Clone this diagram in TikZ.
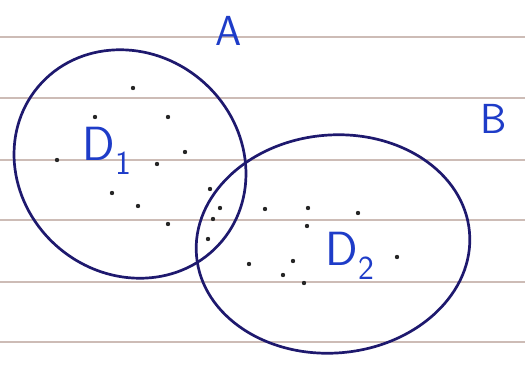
\documentclass[tikz,border=0pt]{standalone}
\usetikzlibrary{positioning}

\definecolor{rule}{RGB}{205,188,182}
\definecolor{ink}{RGB}{30,25,110}
\definecolor{pen}{RGB}{30,60,200}

\begin{document}
\begin{tikzpicture}[
  x=1pt, y=-1pt,
  ruleline/.style = {rule, line width=1.4pt},
  set/.style      = {ink, line width=2.7pt},
  setname/.style  = {pen, font=\sffamily\fontsize{42}{42}\selectfont, inner sep=0pt},
  subset/.style   = {pen, font=\sffamily\fontsize{48}{48}\selectfont, inner sep=0pt},
  pt/.style       = {fill=black!85, draw=none, circle, inner sep=0pt, minimum size=4.4pt},
]
  \useasboundingbox (0,0) rectangle (525,372);

  % the ruled paper
  \foreach \ly in {37,98,160,220,282,342}
    \draw[ruleline] (0,\ly) -- (525,\ly);

  % set A: a round shape leaning down to the right
  \draw[set, rotate around={-40:(130,164)}] (130,164) ellipse [x radius=120, y radius=110];

  % set B, a wide oval
  \draw[set, rotate around={5:(333,244)}] (333,244) ellipse [x radius=137, y radius=109];

  \node[setname] (A) at (229,31) {A};
  \node[setname] (B) at (494,119) {B};

  \node[subset] (D1) at (107,151) {D\textsubscript{1}};
  \node[subset] (D2) at (350,256) {D\textsubscript{2}};

  % the elements
  \foreach \px/\py in {133/88, 95/117, 168/117, 57/160, 157/164, 185/152,
      112/193, 138/206, 168/224, 210/189, 220/208, 213/219, 208/239,
      265/209, 308/208, 307/226, 358/213, 249/264, 293/261, 283/275,
      304/283, 397/257}
    \node[pt] (e-\px-\py) at (\px,\py) {};
\end{tikzpicture}
\end{document}
